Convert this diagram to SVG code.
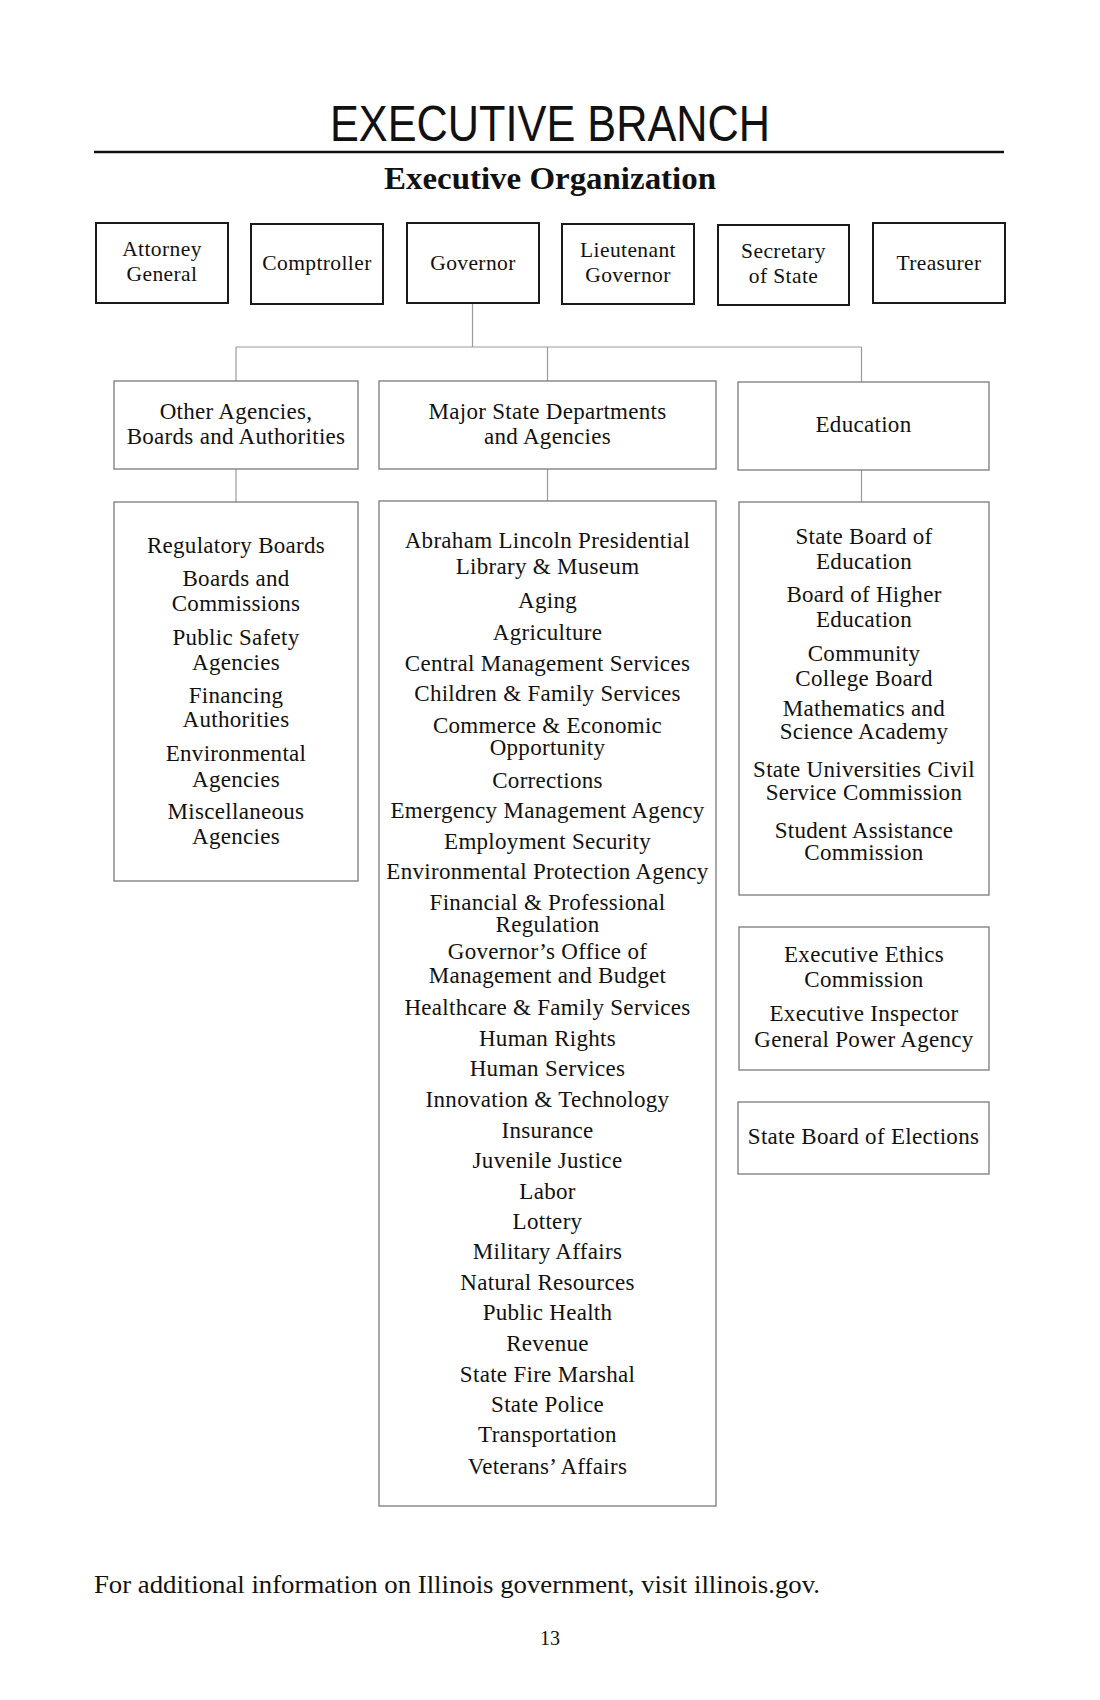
<svg xmlns="http://www.w3.org/2000/svg" width="1100" height="1700" viewBox="0 0 1100 1700">
<style>
.bg{fill:#ffffff}
.topbox{fill:#ffffff;stroke:#1a1a1a;stroke-width:2}
.box{fill:#ffffff;stroke:#7a7a7a;stroke-width:1.3}
.conn{fill:none;stroke:#9a9a9a;stroke-width:1.2}
.t{font-family:"Liberation Serif","Times New Roman",serif;fill:#111;text-anchor:middle}
.th{font-size:21.5px;letter-spacing:0.4px}
.tl{font-size:23px;letter-spacing:0.3px}
.title{font-family:"Liberation Sans",Arial,sans-serif;font-size:50px;fill:#111;text-anchor:middle}
.sub{font-family:"Liberation Serif","Times New Roman",serif;font-size:31px;font-weight:bold;fill:#111;text-anchor:middle}
</style>
<rect class="bg" x="0" y="0" width="1100" height="1700"/>
<text class="title" x="550" y="141" textLength="440" lengthAdjust="spacingAndGlyphs">EXECUTIVE BRANCH</text>
<line x1="94" y1="152" x2="1004" y2="152" stroke="#111" stroke-width="2.5"/>
<text class="sub" x="550" y="189" textLength="332" lengthAdjust="spacingAndGlyphs">Executive Organization</text>

<g id="connectors">
<path class="conn" d="M472.5 303 V347 M236 347 H861.5 M236 347 V381 M547.5 347 V381 M861.5 347 V382 M236 469 V502 M547.5 469 V501 M861.5 470 V502"/>
</g>

<g id="attorney-general">
<rect class="topbox" x="96" y="223" width="132" height="80"/>
<text class="t th" x="162" y="256">Attorney</text>
<text class="t th" x="162" y="281">General</text>
</g>
<g id="comptroller">
<rect class="topbox" x="251" y="224" width="132" height="80"/>
<text class="t th" x="317" y="270">Comptroller</text>
</g>
<g id="governor">
<rect class="topbox" x="407" y="223" width="132" height="80"/>
<text class="t th" x="473" y="270">Governor</text>
</g>
<g id="lieutenant-governor">
<rect class="topbox" x="562" y="224" width="132" height="80"/>
<text class="t th" x="628" y="257">Lieutenant</text>
<text class="t th" x="628" y="282">Governor</text>
</g>
<g id="secretary-of-state">
<rect class="topbox" x="718" y="225" width="131" height="80"/>
<text class="t th" x="783.5" y="258">Secretary</text>
<text class="t th" x="783.5" y="283">of State</text>
</g>
<g id="treasurer">
<rect class="topbox" x="873" y="223" width="132" height="80"/>
<text class="t th" x="939" y="270">Treasurer</text>
</g>

<g id="other-agencies">
<rect class="box" x="114" y="381" width="244" height="88"/>
<text class="t tl" x="236" y="419">Other Agencies,</text>
<text class="t tl" x="236" y="444">Boards and Authorities</text>
</g>
<g id="major-state-departments">
<rect class="box" x="379" y="381" width="337" height="88"/>
<text class="t tl" x="547.5" y="419">Major State Departments</text>
<text class="t tl" x="547.5" y="444">and Agencies</text>
</g>
<g id="education">
<rect class="box" x="738" y="382" width="251" height="88"/>
<text class="t tl" x="863.5" y="432">Education</text>
</g>

<g id="other-agencies-list">
<rect class="box" x="114" y="502" width="244" height="379"/>
<text class="t tl" x="236" y="553">Regulatory Boards</text>
<text class="t tl" x="236" y="586">Boards and</text>
<text class="t tl" x="236" y="611">Commissions</text>
<text class="t tl" x="236" y="645">Public Safety</text>
<text class="t tl" x="236" y="670">Agencies</text>
<text class="t tl" x="236" y="703">Financing</text>
<text class="t tl" x="236" y="727">Authorities</text>
<text class="t tl" x="236" y="761">Environmental</text>
<text class="t tl" x="236" y="787">Agencies</text>
<text class="t tl" x="236" y="819">Miscellaneous</text>
<text class="t tl" x="236" y="844">Agencies</text>
</g>

<g id="major-departments-list">
<rect class="box" x="379" y="501" width="337" height="1005"/>
<text class="t tl" x="547.5" y="548">Abraham Lincoln Presidential</text>
<text class="t tl" x="547.5" y="574">Library &amp; Museum</text>
<text class="t tl" x="547.5" y="608">Aging</text>
<text class="t tl" x="547.5" y="640">Agriculture</text>
<text class="t tl" x="547.5" y="671">Central Management Services</text>
<text class="t tl" x="547.5" y="701">Children &amp; Family Services</text>
<text class="t tl" x="547.5" y="733">Commerce &amp; Economic</text>
<text class="t tl" x="547.5" y="755">Opportunity</text>
<text class="t tl" x="547.5" y="788">Corrections</text>
<text class="t tl" x="547.5" y="818">Emergency Management Agency</text>
<text class="t tl" x="547.5" y="849">Employment Security</text>
<text class="t tl" x="547.5" y="879">Environmental Protection Agency</text>
<text class="t tl" x="547.5" y="910">Financial &amp; Professional</text>
<text class="t tl" x="547.5" y="932">Regulation</text>
<text class="t tl" x="547.5" y="959">Governor’s Office of</text>
<text class="t tl" x="547.5" y="983">Management and Budget</text>
<text class="t tl" x="547.5" y="1015">Healthcare &amp; Family Services</text>
<text class="t tl" x="547.5" y="1046">Human Rights</text>
<text class="t tl" x="547.5" y="1076">Human Services</text>
<text class="t tl" x="547.5" y="1107">Innovation &amp; Technology</text>
<text class="t tl" x="547.5" y="1138">Insurance</text>
<text class="t tl" x="547.5" y="1168">Juvenile Justice</text>
<text class="t tl" x="547.5" y="1199">Labor</text>
<text class="t tl" x="547.5" y="1229">Lottery</text>
<text class="t tl" x="547.5" y="1259">Military Affairs</text>
<text class="t tl" x="547.5" y="1290">Natural Resources</text>
<text class="t tl" x="547.5" y="1320">Public Health</text>
<text class="t tl" x="547.5" y="1351">Revenue</text>
<text class="t tl" x="547.5" y="1382">State Fire Marshal</text>
<text class="t tl" x="547.5" y="1412">State Police</text>
<text class="t tl" x="547.5" y="1442">Transportation</text>
<text class="t tl" x="547.5" y="1474">Veterans’ Affairs</text>
</g>

<g id="education-list">
<rect class="box" x="739" y="502" width="250" height="393"/>
<text class="t tl" x="864" y="544">State Board of</text>
<text class="t tl" x="864" y="569">Education</text>
<text class="t tl" x="864" y="602">Board of Higher</text>
<text class="t tl" x="864" y="627">Education</text>
<text class="t tl" x="864" y="661">Community</text>
<text class="t tl" x="864" y="686">College Board</text>
<text class="t tl" x="864" y="716">Mathematics and</text>
<text class="t tl" x="864" y="739">Science Academy</text>
<text class="t tl" x="864" y="777">State Universities Civil</text>
<text class="t tl" x="864" y="800">Service Commission</text>
<text class="t tl" x="864" y="838">Student Assistance</text>
<text class="t tl" x="864" y="860">Commission</text>
</g>

<g id="ethics">
<rect class="box" x="739" y="927" width="250" height="143"/>
<text class="t tl" x="864" y="962">Executive Ethics</text>
<text class="t tl" x="864" y="987">Commission</text>
<text class="t tl" x="864" y="1021">Executive Inspector</text>
<text class="t tl" x="864" y="1047">General Power Agency</text>
</g>

<g id="elections">
<rect class="box" x="738" y="1102" width="251" height="72"/>
<text class="t tl" x="863.5" y="1144">State Board of Elections</text>
</g>

<text x="94" y="1593" font-family="Liberation Serif, Times New Roman, serif" font-size="25.5" fill="#111" textLength="726" lengthAdjust="spacingAndGlyphs">For additional information on Illinois government, visit illinois.gov.</text>
<text class="t" x="550" y="1645" font-size="20">13</text>
</svg>
